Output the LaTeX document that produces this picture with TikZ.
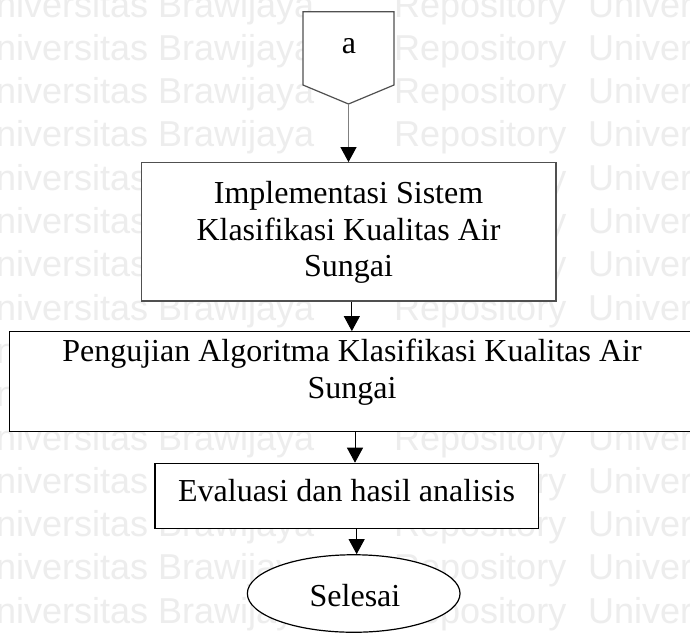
\documentclass[tikz,border=0pt]{standalone}
\usepackage{fontspec}
\setmainfont{Liberation Serif}
\newfontfamily\wmfont{Liberation Sans}
\usetikzlibrary{arrows.meta,shapes.geometric}

\definecolor{wmgray}{gray}{0.93}
\definecolor{edgegray}{HTML}{505050}
\definecolor{linkgray}{HTML}{808080}

\begin{document}
\begin{tikzpicture}[x=1pt,y=-1pt,
  wm/.style={font=\wmfont\fontsize{36}{43}\selectfont, text=wmgray, inner sep=0pt, anchor=base west},
  txt/.style={font=\fontsize{32}{36.8}\selectfont, inner sep=0pt, anchor=base},
  stepbox/.style={draw=black, fill=white, line width=1.2pt, inner sep=0pt, rectangle},
  endbox/.style={draw=black, fill=white, line width=1.2pt, inner sep=0pt, ellipse},
  flow/.style={line width=1pt, -{Triangle[width=16pt,length=15pt,color=black]}},
]
\useasboundingbox (0,0) rectangle (690,633);
\fill[white] (0,0) rectangle (690,633);

% background repository stamp
\begin{scope}
\clip (0,0) rectangle (690,633);
\foreach \k in {0,...,14}{
  \pgfmathsetmacro\yy{17+43.3*\k}
  \node[wm] (wmL\k) at (-30,\yy) {Universitas Brawijaya};
  \node[wm] (wmM\k) at (394,\yy) {Repository};
  \node[wm] (wmR\k) at (588,\yy) {Universitas Brawijaya};
}
\end{scope}

% off-page connector "a"
\draw[draw=edgegray, fill=white, line width=1.2pt]
  (303,11.7) -- (394,11.7) -- (394,85) -- (348.5,104) -- (303,85) -- cycle;
\coordinate (tipA) at (348.5,104);
\node[txt] (labA) at (349,53.3) {a};

% process steps
\node[stepbox, draw=edgegray, minimum width=414.3pt, minimum height=138.3pt] (b1) at (348.85,231.85) {};
\node[txt] (b1l1) at (348.5,203) {Implementasi Sistem};
\node[txt] (b1l2) at (348.5,240.7) {Klasifikasi Kualitas Air};
\node[txt] (b1l3) at (348.5,276.7) {Sungai};

\node[stepbox, minimum width=685.5pt, minimum height=100pt] (b2) at (352.25,381.7) {};
\node[txt] (b2l1) at (352,361.7) {Pengujian Algoritma Klasifikasi Kualitas Air};
\node[txt] (b2l2) at (352,398) {Sungai};

\node[stepbox, minimum width=383.3pt, minimum height=65pt] (b3) at (346.65,495.8) {};
\node[txt] (b3l1) at (346.5,501.7) {Evaluasi dan hasil analisis};

\node[endbox, minimum width=212.7pt, minimum height=77.5pt] (end) at (353.7,593.5) {};
\node[txt] (endl) at (355,606.7) {Selesai};

% connectors
\draw[flow, draw=linkgray] (tipA) -- (tipA |- b1.north);
\draw[flow] ([xshift=3pt]b1.south) -- ([xshift=3pt]b1.south |- b2.north);
\draw[flow] ([xshift=2.75pt]b2.south) -- ([xshift=2.75pt]b2.south |- b3.north);
\draw[flow] ([xshift=10pt]b3.south) -- ([xshift=10pt]b3.south |- end.north);
\end{tikzpicture}
\end{document}
